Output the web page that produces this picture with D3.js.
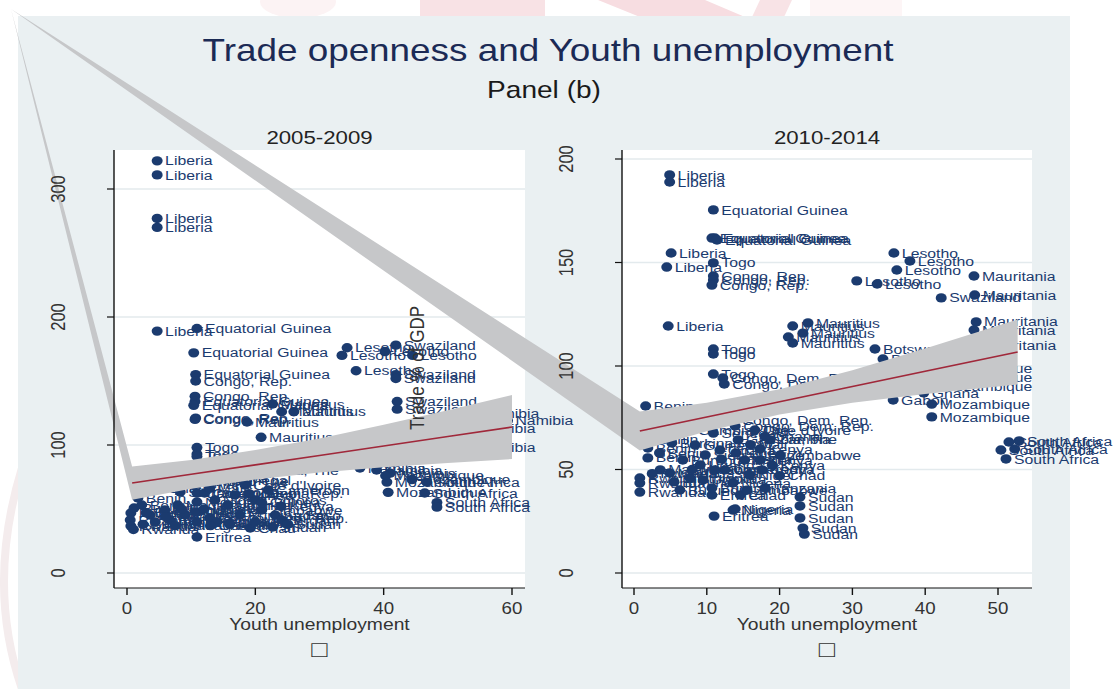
<!DOCTYPE html>
<html>
<head>
<meta charset="utf-8">
<script src="https://cdn.jsdelivr.net/npm/d3@7"></script>
<style>
  body { margin: 0; background: #ffffff; }
  svg { display: block; }
  text { font-family: "Liberation Sans", Arial, Helvetica, sans-serif; }
</style>
</head>
<body>
<svg id="chart" width="1116" height="689"></svg>
<script>
// ---------- Titles ----------
const mainTitle = "Trade openness and Youth unemployment";
const subTitle = "Panel (b)";
const panelTitles = ["2005-2009", "2010-2014"];
const xAxisTitle = "Youth unemployment";
const yAxisTitle = "Trade % of GDP";
const noteGlyph = "\u25A1";

// ---------- 2005-2009 ----------
const labels0509 = [
  "Liberia","Liberia","Liberia","Liberia","Liberia",
  "Equatorial Guinea","Equatorial Guinea","Equatorial Guinea","Congo, Rep.","Congo, Rep.",
  "Equatorial Guinea","Equatorial Guinea","Congo, Rep.","Congo, Rep.",
  "Mauritius","Mauritius","Mauritius","Mauritius","Mauritius",
  "Togo","Togo","Togo",
  "Lesotho","Lesotho","Lesotho","Swaziland","Lesotho","Lesotho","Swaziland","Swaziland","Swaziland","Swaziland",
  "Namibia","Namibia","Namibia","Namibia",
  "Namibia","Namibia","Namibia","Mozambique","Mozambique","Mozambique","Mozambique",
  "South Africa","South Africa","South Africa","South Africa",
  "Rwanda","Rwanda","Rwanda","Burundi","Benin","Benin","Benin","Burundi","Burundi","Ethiopia",
  "Madagascar","Malawi","Gambia, The","Senegal","Ghana","Cameroon","Nigeria","Uganda","Tanzania","Eritrea",
  "Congo, Dem. Rep.","Mali","Niger","Congo, Dem. Rep.","Senegal","Uganda","Guinea","Gambia, The","Burkina Faso",
  "Cote d'Ivoire","Chad","Comoros","Zimbabwe","Cameroon","Sudan","Sudan","Sudan","Sierra Leone","Kenya","Ghana",
  "Benin","Rwanda","Burundi","Malawi","Madagascar","Ethiopia","Uganda","Tanzania","Niger","Mali",
  "Guinea","Kenya","Sudan","Zambia","Chad","Comoros"
];
const unemp0509 = [
  4.7,4.7,4.7,4.7,4.7,
  10.9,10.4,10.7,10.7,10.6,
  10.6,10.4,10.7,10.6,
  22.7,24.1,26.0,18.7,20.9,
  10.9,10.9,10.9,
  34.3,33.5,40.2,41.9,44.5,35.7,41.9,41.9,42.1,42.1,
  54.0,59.3,53.4,53.4,
  36.3,38.9,41.0,40.3,40.5,40.7,44.4,
  46.7,46.4,48.3,48.3,
  0.6,0.5,0.6,1.1,1.7,2.3,3.6,4.4,5.9,6.7,
  7.9,9.0,9.8,10.9,10.9,10.9,10.9,10.9,10.9,10.9,
  12.1,12.9,13.7,12.9,15.3,15.7,16.8,17.6,17.6,
  18.4,19.2,19.9,21.0,22.0,22.7,23.1,24.1,8.3,13.7,5.1,
  3.0,1.0,2.5,6.0,7.5,8.5,12.0,14.0,16.0,20.0,
  21.0,24.0,25.0,19.0,13.0,16.0
];
const trade0509 = [
  322,311,277,270,189,
  191,172,155,150,138,
  134,131,121,120,
  132,126,126,118,106,
  98,93,91,
  176,170,173,178,170,158,155,152,134,128,
  125,119,113,98,
  82,80.5,78,76,71,63,73,
  71,62.5,55,51.5,
  46.9,41.4,36.7,50.8,58.6,53.1,45.3,39.8,49.2,41.4,
  53.1,45.3,71.9,78.1,69.5,62.5,55.5,47.7,39.8,28.1,
  62.5,66.4,57.0,43.0,72.7,53.1,60.9,80.5,45.3,
  68.8,35.2,57.0,49.2,64.8,35.9,45.3,41.4,63.3,74.2,66.4,
  47,34,38,44,37,50,50,40,38,40,
  55,52,38,62,37,39
];
const xTicks0509 = [0, 20, 40, 60];
const yTicks0509 = [0, 100, 200, 300];
// fitted line and 95% band
const fitX0509  = [0.8, 10, 20, 30, 40, 50, 60];
const fit0509   = [70.3, 77.1, 84.5, 91.8, 99.2, 106.6, 114.0];
const fitLo0509 = [57.3, 65.9, 73.0, 78.5, 82.6, 86.0, 89.0];
const fitHi0509 = [83.3, 88.3, 96.0, 105.1, 115.8, 127.2, 139.0];

// ---------- 2010-2014 ----------
const labels1014 = [
  "Liberia","Liberia","Equatorial Guinea","Equatorial Guinea","Equatorial Guinea","Equatorial Guinea",
  "Liberia","Togo","Liberia","Congo, Rep.","Congo, Rep.","Congo, Rep.","Liberia",
  "Mauritius","Mauritius","Mauritius","Mauritius","Mauritius",
  "Togo","Togo","Togo","Congo, Dem. Rep.","Congo, Dem. Rep.",
  "Lesotho","Lesotho","Lesotho","Lesotho","Lesotho","Swaziland",
  "Mauritania","Mauritania","Mauritania","Mauritania","Mauritania",
  "Botswana","Botswana","Mozambique","Mozambique","Mozambique","Ghana","Gabon","Mozambique","Mozambique",
  "South Africa","South Africa","South Africa","South Africa","South Africa",
  "Sudan","Sudan","Sudan","Sudan","Sudan","Nigeria","Nigeria","Eritrea","Eritrea",
  "Benin","Rwanda","Rwanda","Rwanda",
  "Benin","Benin","Benin","Burkina Faso","Burundi","Malawi","Madagascar","Burundi","Ethiopia","Uganda",
  "Burundi","Senegal","Ghana","Cameroon","Nigeria","Gambia, The","Mali","Niger","Cote d'Ivoire",
  "Kenya","Kenya","Kenya","Tanzania","Zambia","Congo, Dem. Rep.","Congo, Dem. Rep.","Zimbabwe",
  "Guinea","Sierra Leone","Comoros","Gambia, The","Chad",
  "Rwanda","Benin","Burundi","Malawi","Uganda","Tanzania","Kenya","Niger","Mali","Ghana","Chad","Zimbabwe"
];
const unemp1014 = [
  4.9,4.9,10.9,10.7,11.1,11.4,
  5.1,10.9,4.5,10.9,10.9,10.7,4.7,
  21.8,23.9,23.2,21.2,21.8,
  10.9,10.9,10.9,12.2,12.4,
  35.7,37.9,36.1,30.6,33.4,42.2,
  46.7,46.8,47.0,46.7,46.8,
  33.1,34.2,41.2,41.2,41.2,39.8,35.6,40.9,40.9,
  51.5,52.9,50.4,52.3,51.1,
  22.8,22.8,22.8,23.2,23.4,13.6,13.9,11.0,10.7,
  1.6,0.8,0.8,0.8,
  1.9,1.9,2.2,5.2,6.7,3.6,4.9,6.3,7.7,9.1,
  10.7,10.9,11.8,12.5,13.6,14.3,15.2,15.9,16.6,
  17.3,17.3,17.6,18.0,18.7,13.7,13.9,20.1,
  8.4,9.8,11.1,7.7,14.6,
  2.5,3.5,5.5,8.0,9.5,12.0,19.0,14.0,16.0,18.0,20.0,15.5
];
const trade1014 = [
  192.3,188.9,175.4,161.8,161.8,160.9,
  154.6,149.8,147.8,143.5,141.5,139.1,119.3,
  119.3,120.8,115.9,114.0,111.1,
  108.2,105.8,96.1,94.2,91.3,
  154.6,150.7,146.4,141.1,139.6,132.9,
  143.5,134.3,121.3,117.4,110.1,
  108.2,103.4,99.0,94.7,90.3,87.0,83.6,81.6,75.4,
  63.3,63.8,59.4,59.9,55.1,
  36.7,32.4,26.6,21.7,18.8,30.4,30.9,27.5,37.7,
  80.7,45.9,43.5,39.1,
  60.4,55.6,64.3,62.8,54.6,49.8,48.3,40.1,45.9,52.2,
  41.1,67.6,59.4,49.8,43.5,64.3,54.6,47.3,69.1,
  59.9,54.6,49.8,41.1,64.3,73.9,71.0,57.0,
  61.8,57.0,49.8,69.1,37.7,
  48,58,44,50,45,55,52,58,62,66,47,40
];
const xTicks1014 = [0, 10, 20, 30, 40, 50];
const yTicks1014 = [0, 50, 100, 150, 200];
const fitX1014  = [0.8, 10, 20, 30, 40, 52.7];
const fit1014   = [68.6, 75.4, 82.7, 90.1, 97.5, 106.8];
const fitLo1014 = [59.2, 68.5, 76.6, 82.3, 86.5, 91.1];
const fitHi1014 = [78.0, 82.3, 88.8, 97.9, 108.5, 122.5];

// ---------- Layout ----------
const W = 1116, H = 689;
const SX = 1.17;                 // horizontal stretch of the whole figure
const u = p => p / SX;           // page x -> drawing x
const navy = "#1b3b6f";
const bandFill = "#c6c7c9";
const fitStroke = "#a0283a";
const frameBg = "#eaf0f2";
const gridCol = "#e3eaed";
const plotTop = 150, plotBottom = 588;
const bandOrigin = [u(11), 9];   // first vertex of each band outline

const panels = [
  { title: panelTitles[0], labels: labels0509, xs: unemp0509, ys: trade0509,
    xTicks: xTicks0509, yTicks: yTicks0509,
    fitX: fitX0509, fit: fit0509, lo: fitLo0509, hi: fitHi0509,
    xDomain: [0, 60], xPix: [127, 512], yDomain: [0, 300], yPix: [573, 189],
    left: 114, right: 525, tickLabelX: 58.5, center: 319.5 },
  { title: panelTitles[1], labels: labels1014, xs: unemp1014, ys: trade1014,
    xTicks: xTicks1014, yTicks: yTicks1014,
    fitX: fitX1014, fit: fit1014, lo: fitLo1014, hi: fitHi1014,
    xDomain: [0, 50], xPix: [634, 998], yDomain: [0, 200], yPix: [573, 159],
    left: 622, right: 1032, tickLabelX: 567, center: 827 }
];

const svg = d3.select("#chart");

// faint page marks outside the graph frame
const wm = svg.append("g");
wm.append("ellipse").attr("cx", 298).attr("cy", 2).attr("rx", 38).attr("ry", 16).attr("fill", "#fcf3f4");
wm.append("rect").attr("x", 420).attr("y", 0).attr("width", 125).attr("height", 17).attr("fill", "#f8e2e5");
wm.append("polygon").attr("points", "598,0 705,0 745,17 640,17").attr("fill", "#f7dde1");
wm.append("polygon").attr("points", "760,0 792,0 784,17 752,17").attr("fill", "#f8e3e6");
wm.append("rect").attr("x", 810).attr("y", 0).attr("width", 92).attr("height", 17).attr("fill", "#fdf5f6");
wm.append("path").attr("d", "M 22 468 Q -14 585 22 689").attr("fill", "none")
  .attr("stroke", "#f4eced").attr("stroke-width", 8);

const g = svg.append("g").attr("transform", `scale(${SX},1)`);

// graph frame
g.append("rect").attr("x", u(18)).attr("y", 16).attr("width", u(1070) - u(18)).attr("height", H - 16)
  .attr("fill", frameBg);

// overall titles
g.append("text").attr("x", u(548)).attr("y", 61).attr("text-anchor", "middle")
  .attr("font-size", 31.5).attr("fill", "#1b2a55").text(mainTitle);
g.append("text").attr("x", u(544)).attr("y", 98).attr("text-anchor", "middle")
  .attr("font-size", 24).attr("fill", "#1a1a1a").text(subTitle);

panels.forEach(p => {
  const x = d3.scaleLinear().domain(p.xDomain).range(p.xPix.map(u));
  const y = d3.scaleLinear().domain(p.yDomain).range(p.yPix);
  const pg = g.append("g");

  pg.append("text").attr("x", u(p.center)).attr("y", 144).attr("text-anchor", "middle")
    .attr("font-size", 19).attr("fill", "#222").text(p.title);

  // plot region
  pg.append("rect").attr("x", u(p.left)).attr("y", plotTop)
    .attr("width", u(p.right) - u(p.left)).attr("height", plotBottom - plotTop).attr("fill", "#fff");

  // grid lines
  pg.selectAll(".grid").data(p.yTicks).join("line")
    .attr("x1", u(p.left)).attr("x2", u(p.right))
    .attr("y1", d => y(d)).attr("y2", d => y(d))
    .attr("stroke", gridCol).attr("stroke-width", 1.6);

  // labelled scatter
  const pts = p.labels.map((lab, i) => ({ lab, xv: p.xs[i], yv: p.ys[i] }));
  pg.selectAll(".dot").data(pts).join("circle")
    .attr("cx", d => x(d.xv)).attr("cy", d => y(d.yv)).attr("r", 4.7).attr("fill", navy);
  pg.selectAll(".lab").data(pts).join("text")
    .attr("x", d => x(d.xv) + 6.8).attr("y", d => y(d.yv))
    .attr("dominant-baseline", "central").attr("font-size", 13.5).attr("fill", navy)
    .text(d => d.lab);

  // confidence band and fitted line
  const upper = p.fitX.map((xv, i) => [x(xv), y(p.hi[i])]);
  const lower = p.fitX.map((xv, i) => [x(xv), y(p.lo[i])]).reverse();
  pg.append("path").attr("d", d3.line()([bandOrigin, ...upper, ...lower]) + "Z")
    .attr("fill", bandFill);
  pg.append("path").attr("d", d3.line()(p.fitX.map((xv, i) => [x(xv), y(p.fit[i])])))
    .attr("fill", "none").attr("stroke", fitStroke).attr("stroke-width", 1.6);

  // y axis
  const ya = pg.append("g");
  ya.append("line").attr("x1", u(p.left)).attr("x2", u(p.left))
    .attr("y1", plotTop).attr("y2", plotBottom).attr("stroke", "#111").attr("stroke-width", 1.2);
  ya.selectAll(".yt").data(p.yTicks).join("line")
    .attr("x1", u(p.left - 7)).attr("x2", u(p.left)).attr("y1", d => y(d)).attr("y2", d => y(d))
    .attr("stroke", "#111").attr("stroke-width", 1.2);
  ya.selectAll(".yl").data(p.yTicks).join("text")
    .attr("transform", d => `translate(${u(p.tickLabelX)},${y(d)}) rotate(-90)`)
    .attr("text-anchor", "middle").attr("dominant-baseline", "central")
    .attr("font-size", 16.5).attr("fill", "#333").text(d => d);

  // x axis
  const xa = pg.append("g");
  xa.append("line").attr("x1", u(p.left)).attr("x2", u(p.right))
    .attr("y1", plotBottom).attr("y2", plotBottom).attr("stroke", "#111").attr("stroke-width", 1.2);
  xa.selectAll(".xt").data(p.xTicks).join("line")
    .attr("x1", d => x(d)).attr("x2", d => x(d)).attr("y1", plotBottom).attr("y2", plotBottom + 7)
    .attr("stroke", "#111").attr("stroke-width", 1.2);
  xa.selectAll(".xl").data(p.xTicks).join("text")
    .attr("x", d => x(d)).attr("y", 614).attr("text-anchor", "middle")
    .attr("font-size", 16).attr("fill", "#333").text(d => d);
  xa.append("text").attr("x", u(p.center)).attr("y", 630).attr("text-anchor", "middle")
    .attr("font-size", 16.5).attr("fill", "#333").text(xAxisTitle);
  xa.append("text").attr("x", u(p.center)).attr("y", 657).attr("text-anchor", "middle")
    .attr("font-family", "DejaVu Sans").attr("font-size", 23).attr("fill", "#333").text(noteGlyph);
});

// y axis title of the second panel
g.append("text").attr("transform", `translate(${u(417)},368) rotate(-90)`)
  .attr("text-anchor", "middle").attr("dominant-baseline", "central")
  .attr("font-size", 17).attr("fill", "#333").text(yAxisTitle);
</script>
</body>
</html>
